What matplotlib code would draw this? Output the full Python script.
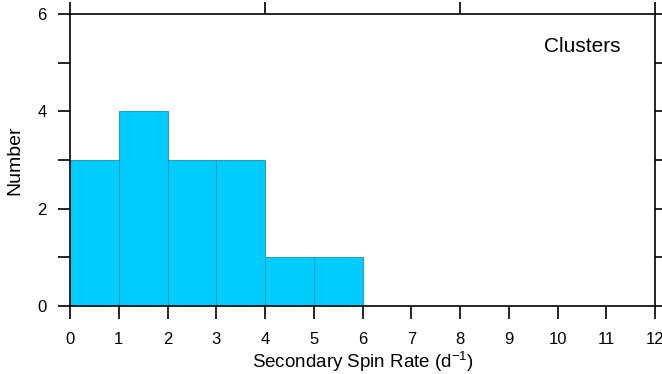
import matplotlib
matplotlib.use('Agg')
import matplotlib.pyplot as plt
import numpy as np

plt.rcParams['font.family'] = ['Liberation Sans', 'DejaVu Sans']
plt.rcParams['mathtext.fontset'] = 'custom'
plt.rcParams['mathtext.rm'] = 'Liberation Sans'

# histogram data
bin_edges = [0, 1, 2, 3, 4, 5, 6]
counts = [3, 4, 3, 3, 1, 1]

fig = plt.figure(figsize=(6.62, 3.74), dpi=100)
ax = fig.add_axes([70 / 662, 68 / 374, 585 / 662, 292 / 374])

ax.bar(bin_edges[:-1], counts, width=np.diff(bin_edges), align='edge',
       color='#00ccff', edgecolor='#1a8fa8', linewidth=0.6)

ax.set_xlim(0, 12)
ax.set_ylim(0, 6)
ax.set_xticks(np.arange(0, 13, 1))
ax.set_yticks([0, 2, 4, 6])
ax.set_yticks([1, 3, 5], minor=True)

for s in ax.spines.values():
    s.set_linewidth(1.2)

ax.tick_params(axis='both', which='both', direction='out', length=9, width=1.2,
               labelsize=12)
ax.tick_params(axis='x', pad=10)
ax.tick_params(axis='y', pad=8)

# top ticks every 4, right ticks every 1, both outward, no labels
top = ax.secondary_xaxis('top')
top.set_xticks([0, 4, 8, 12])
top.tick_params(direction='out', length=9, width=1.2, labeltop=False)
top.spines['top'].set_visible(False)
right = ax.secondary_yaxis('right')
right.set_yticks(np.arange(0, 7, 1))
right.tick_params(direction='out', length=9, width=1.2, labelright=False)
right.spines['right'].set_visible(False)

ax.set_xlabel('Secondary Spin Rate (d$\\mathregular{^{-1}}$)', fontsize=13.5, labelpad=2)
ax.set_ylabel('Number', fontsize=14, labelpad=10)
ax.text(0.81, 0.89, 'Clusters', transform=ax.transAxes, fontsize=15,
        ha='left', va='center')

fig.savefig('out.png', dpi=100)
